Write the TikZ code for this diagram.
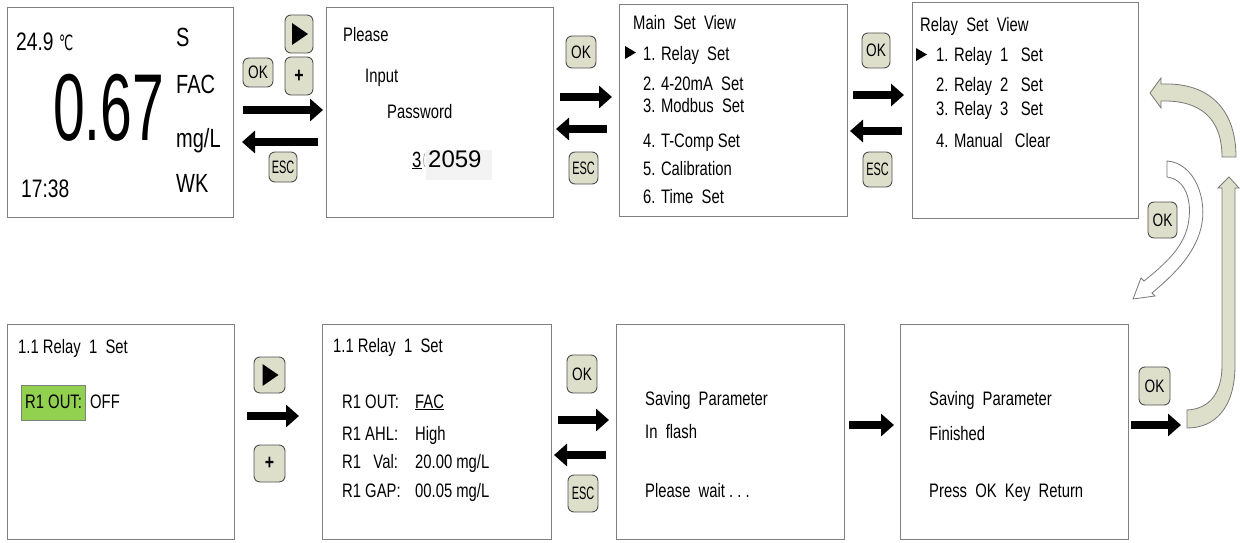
\documentclass[tikz,border=0pt]{standalone}
\usepackage{fontspec}
\setmainfont[FakeStretch=0.76]{Liberation Sans}
\newfontfamily\plainsans{Liberation Sans}
\newfontfamily\dejavu{DejaVu Sans}
\usetikzlibrary{arrows.meta}
\definecolor{btnfill}{RGB}{221,223,203}
\definecolor{btnline}{RGB}{80,80,80}
\definecolor{boxline}{RGB}{128,128,128}
\definecolor{bandline}{RGB}{120,120,120}
\definecolor{lcdgreen}{RGB}{146,208,80}
\definecolor{pwbg}{RGB}{243,243,243}
\begin{document}
\begin{tikzpicture}[x=1pt,y=-1pt,
  scr/.style={draw=boxline, line width=1.1, fill=white, inner sep=0, anchor=north west},
  txt/.style={anchor=base west, inner sep=0, font=\fontsize{19.5}{21}\selectfont},
  lg/.style={anchor=base west, inner sep=0, font=\fontsize{26.3}{28}\selectfont},
  btn/.style={draw=btnline, fill=btnfill, rounded corners=6, line width=0.9, inner sep=0,
     minimum width=30, minimum height=30, font=\fontsize{18}{18}\selectfont},
  playbtn/.style={btn, path picture={\fill[black, sharp corners] (path picture bounding box.center) ++(-7,-11) -- ++(0,22) -- ++(16,-11) -- cycle;}},
  blk/.style={line width=8, -{Triangle[length=13pt,width=22pt]}},
  band/.style={draw=bandline, fill=btnfill, line width=0.8},
  tri/.style={fill=black}
]
\useasboundingbox (0,0) rectangle (1240,543);
\fill[white] (0,0) rectangle (1240,543);

% screens
\node[scr, minimum width=226, minimum height=210] (s1) at (7,7) {};
\node[scr, minimum width=227, minimum height=210] (s2) at (326,7) {};
\node[scr, minimum width=228, minimum height=212] (s3) at (619,4) {};
\node[scr, minimum width=226, minimum height=216] (s4) at (912,2) {};
\node[scr, minimum width=227, minimum height=215] (s5) at (7,324) {};
\node[scr, minimum width=229, minimum height=215] (s6) at (322,324) {};
\node[scr, minimum width=228, minimum height=215] (s7) at (616,324) {};
\node[scr, minimum width=228, minimum height=215] (s8) at (900,324) {};

% screen 1
\node[lg, font=\fontsize{25.3}{27}\selectfont] (t1a) at (16,51) {24.9};
\node[anchor=base west, inner sep=0] (t1b) at (59,51) {\scalebox{0.6}[1]{\dejavu\fontsize{21}{21}\selectfont ℃}};
\node[anchor=base west, inner sep=0] (t1c) at (53,140) {\scalebox{0.79}[1]{\fontsize{95}{95}\selectfont 0.67}};
\node[lg] (t1d) at (176,47) {S};
\node[lg] (t1e) at (176,93) {FAC};
\node[lg] (t1f) at (176,147) {mg/L};
\node[lg] (t1g) at (176,192) {WK};
\node[lg, font=\fontsize{25.3}{27}\selectfont] (t1h) at (21,197) {17:38};

% screen 2
\node[txt] (t2a) at (343,42) {Please};
\node[txt] (t2b) at (365,83) {Input};
\node[txt] (t2c) at (387,118) {Password};
\fill[pwbg] (426,150) rectangle (492,180);
\node[anchor=base west, inner sep=0, font=\fontsize{22}{22}\selectfont] (t2d) at (412,167) {\underline{3}};
\draw[gray!60, line width=0.8] (425,153) .. controls (423,158) and (423,163) .. (425,167);
\node[anchor=base west, inner sep=0, font=\plainsans\fontsize{24}{24}\selectfont] (t2e) at (428,167) {2059};

% screen 3
\node[txt] (t3a) at (633,30) {Main\ \ Set\ \ View};
\fill[tri] (625,46) -- (625,59) -- (636,52.5) -- cycle;
\node[txt] (t3b) at (643,60) {1. Relay\ \ Set};
\node[txt] (t3c) at (643,90) {2. 4-20mA\ \ Set};
\node[txt] (t3d) at (643,113) {3. Modbus\ \ Set};
\node[txt] (t3e) at (643,147) {4. T-Comp Set};
\node[txt] (t3f) at (643,175) {5. Calibration};
\node[txt] (t3g) at (643,203) {6. Time\ \ Set};

% screen 4
\node[txt] (t4a) at (920,32) {Relay\ \ Set\ \ View};
\fill[tri] (916,48) -- (916,61) -- (927,54.5) -- cycle;
\node[txt] (t4b) at (936,62) {1. Relay\ \ 1\ \ \ Set};
\node[txt] (t4c) at (936,92) {2. Relay\ \ 2\ \ \ Set};
\node[txt] (t4d) at (936,115) {3. Relay\ \ 3\ \ \ Set};
\node[txt] (t4e) at (936,147) {4. Manual\ \ \ Clear};

% screen 5
\node[txt] (t5a) at (18,353) {1.1 Relay\ \ 1\ \ Set};
\node[draw=boxline, fill=lcdgreen, line width=0.8, anchor=north west, minimum width=64, minimum height=35, inner sep=0] (g5) at (21,385) {};
\node[txt] (t5b) at (25,408) {R1 OUT:};
\node[txt] (t5c) at (90,408) {OFF};

% screen 6
\node[txt] (t6a) at (333,352) {1.1 Relay\ \ 1\ \ Set};
\node[txt] (t6b) at (342,408) {R1 OUT:};
\node[txt] (t6c) at (415,408) {\underline{FAC}};
\node[txt] (t6d) at (342,440) {R1 AHL:};
\node[txt] (t6e) at (415,440) {High};
\node[txt] (t6f) at (342,468) {R1\ \ \ Val:};
\node[txt] (t6g) at (415,468) {20.00 mg/L};
\node[txt] (t6h) at (342,497) {R1 GAP:};
\node[txt] (t6i) at (415,497) {00.05 mg/L};

% screen 7
\node[txt] (t7a) at (645,405) {Saving\ \ Parameter};
\node[txt] (t7b) at (645,438) {In\ \ flash};
\node[txt] (t7c) at (645,497) {Please\ \ wait\ .\ .\ .};

% screen 8
\node[txt] (t8a) at (929,405) {Saving\ \ Parameter};
\node[txt] (t8b) at (929,440) {Finished};
\node[txt] (t8c) at (929,497) {Press\ \ OK\ \ Key\ \ Return};

% buttons
\node[playbtn, minimum width=28, minimum height=38] (p12) at (299,34) {};
\node[btn, minimum width=28, minimum height=38, font=\bfseries\fontsize{21}{21}\selectfont] (plus12) at (299,76) {+};
\node[btn, minimum width=30, minimum height=29] (ok12) at (258,72.5) {OK};
\node[btn, minimum width=28, minimum height=30] (esc12) at (283,167) {\scalebox{0.8}[1]{ESC}};
\node[btn, minimum width=30, minimum height=32] (ok23) at (581,52) {OK};
\node[btn, minimum width=29, minimum height=32] (esc23) at (583.5,168) {\scalebox{0.8}[1]{ESC}};
\node[btn, minimum width=28, minimum height=35] (ok34) at (876,50.5) {OK};
\node[btn, minimum width=29, minimum height=35] (esc34) at (877.5,169.5) {\scalebox{0.8}[1]{ESC}};
\node[btn, minimum width=29, minimum height=36] (ok44) at (1162.5,220) {OK};
\node[playbtn, minimum width=31, minimum height=36] (p56) at (269.5,375) {};
\node[btn, minimum width=31, minimum height=37, font=\bfseries\fontsize{21}{21}\selectfont] (plus56) at (269.5,463.5) {+};
\node[btn, minimum width=30, minimum height=38] (ok67) at (582,374) {OK};
\node[btn, minimum width=30, minimum height=37] (esc67) at (583,493.5) {\scalebox{0.8}[1]{ESC}};
\node[btn, minimum width=31, minimum height=38] (ok8) at (1154.5,386) {OK};

% arrow end points
\coordinate (a12rs) at (243,110); \coordinate (a12re) at (323,110);
\coordinate (a12ls) at (318,142); \coordinate (a12le) at (242,142);
\coordinate (a23rs) at (560,97);  \coordinate (a23re) at (612,97);
\coordinate (a23ls) at (607,129); \coordinate (a23le) at (556,129);
\coordinate (a34rs) at (853,95);  \coordinate (a34re) at (904,95);
\coordinate (a34ls) at (902,131); \coordinate (a34le) at (850,131);
\coordinate (a56s) at (247,416);  \coordinate (a56e) at (299,416);
\coordinate (a67rs) at (558,420); \coordinate (a67re) at (609,420);
\coordinate (a67ls) at (606,455); \coordinate (a67le) at (554,455);
\coordinate (a78s) at (849,425);  \coordinate (a78e) at (894,425);
\coordinate (a8s) at (1131,425);  \coordinate (a8e) at (1181,425);

\draw[blk] (a12rs) -- (a12re);
\draw[blk] (a12ls) -- (a12le);
\draw[blk] (a23rs) -- (a23re);
\draw[blk] (a23ls) -- (a23le);
\draw[blk] (a34rs) -- (a34re);
\draw[blk] (a34ls) -- (a34le);
\draw[blk] (a56s) -- (a56e);
\draw[blk] (a67rs) -- (a67re);
\draw[blk] (a67ls) -- (a67le);
\draw[blk] (a78s) -- (a78e);
\draw[blk] (a8s) -- (a8e);

% curved block arrows
\draw[band] (1150,93) -- (1161,78) -- (1161,84) .. controls (1210,82) and (1236,110) .. (1236,157)
  -- (1222,157) .. controls (1222,118) and (1200,100) .. (1161,101) -- (1161,108) -- cycle;
\draw[band] (1229,177) -- (1239,188) -- (1235,188) -- (1235,365) .. controls (1235,408) and (1215,428) .. (1187,428)
  -- (1187,410) .. controls (1208,409) and (1222,395) .. (1222,365) -- (1222,188) -- (1218,188) -- cycle;
\draw[band, fill=white] (1167,161) .. controls (1195,163) and (1208,200) .. (1201,228)
  .. controls (1194,256) and (1172,276) .. (1152,293) -- (1155,296) -- (1133,299) -- (1141,278) -- (1144,281)
  .. controls (1165,264) and (1183,248) .. (1188,225) .. controls (1193,200) and (1185,179) .. (1167,177) -- cycle;
\end{tikzpicture}
\end{document}
